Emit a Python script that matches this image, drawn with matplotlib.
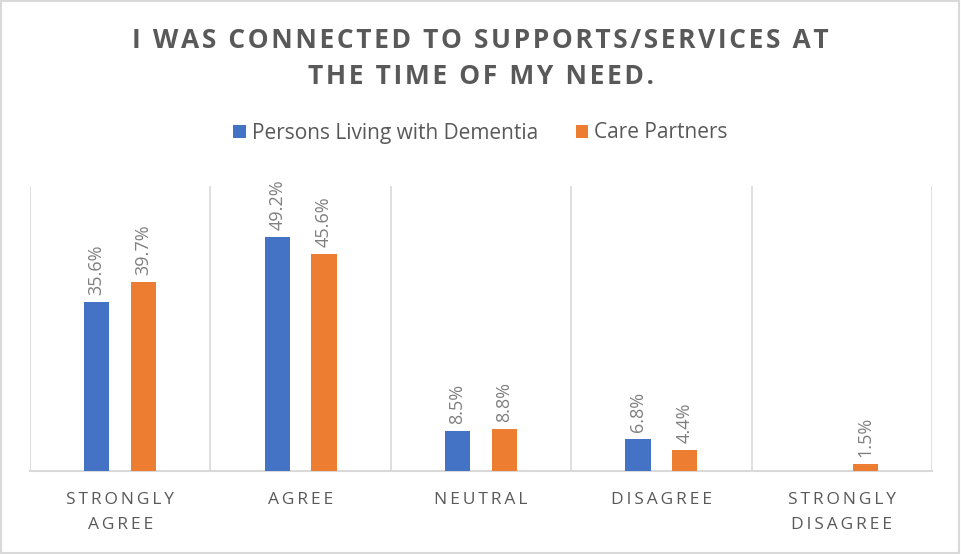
import matplotlib.pyplot as plt
import numpy as np
from matplotlib.patches import Rectangle

categories = ["STRONGLY\nAGREE", "AGREE", "NEUTRAL", "DISAGREE", "STRONGLY\nDISAGREE"]
pwd_values = [35.6, 49.2, 8.5, 6.8, None]
care_values = [39.7, 45.6, 8.8, 4.4, 1.5]
series_names = ["Persons Living with Dementia", "Care Partners"]

BLUE = "#4472C4"
ORANGE = "#ED7D31"
TEXT = "#595959"
GRID = "#D9D9D9"


def spaced(s, gap="\u2009"):
    # widen letter spacing by putting thin spaces between characters
    return "\n".join(gap.join(line) for line in s.split("\n"))


plt.rcParams["font.family"] = ["Open Sans", "DejaVu Sans"]

fig = plt.figure(figsize=(9.61, 5.54), dpi=100)
ax = fig.add_axes([30 / 961, 83 / 554, 902 / 961, 285 / 554])

x = np.arange(len(categories))
off = 0.13
w = 0.14

pwd = np.array([v if v is not None else 0 for v in pwd_values], dtype=float)
care = np.array(care_values, dtype=float)

ax.bar(x - off, pwd, w, color=BLUE, label=series_names[0], zorder=3)
ax.bar(x + off, care, w, color=ORANGE, label=series_names[1], zorder=3)

for xi, v in zip(x, pwd_values):
    if v is not None:
        ax.annotate(f"{v:.1f}%", (xi - off, v), xytext=(0, 5), textcoords="offset points",
                    rotation=90, ha="center", va="bottom", fontsize=13, color="#7F7F7F")
for xi, v in zip(x, care_values):
    ax.annotate(f"{v:.1f}%", (xi + off, v), xytext=(0, 5), textcoords="offset points",
                rotation=90, ha="center", va="bottom", fontsize=13, color="#7F7F7F")

ax.set_xlim(-0.5, len(categories) - 0.5)
ax.set_ylim(0, 60)
ax.set_yticks([])
ax.set_xticks(x)
ax.set_xticklabels([spaced(c) for c in categories], fontsize=12.5, color=TEXT, linespacing=1.75)
ax.tick_params(axis="x", length=0, pad=15)

for b in np.arange(-0.5, len(categories), 1.0):
    ax.axvline(b, color=GRID, lw=1.2, zorder=1)

for s in ["top", "right", "left"]:
    ax.spines[s].set_visible(False)
ax.spines["bottom"].set_color(GRID)
ax.spines["bottom"].set_linewidth(1.5)

fig.text(0.5, 1 - 40 / 554, spaced("I WAS CONNECTED TO SUPPORTS/SERVICES AT", "\u200a"),
         ha="center", va="center", fontsize=19, fontweight="bold", color=TEXT)
fig.text(0.5, 1 - 77 / 554, spaced("THE TIME OF MY NEED.", "\u200a"),
         ha="center", va="center", fontsize=19, fontweight="bold", color=TEXT)

fig.legend(loc="center", bbox_to_anchor=(0.5, 1 - 133 / 554), ncol=2, frameon=False,
           fontsize=15, labelcolor=TEXT, handlelength=0.6, handleheight=0.6,
           handletextpad=0.3, columnspacing=1.8)

fig.patches.append(Rectangle((0.001, 0.001), 0.997, 0.997, transform=fig.transFigure,
                             fill=False, edgecolor=GRID, lw=1.5))

fig.savefig("out.png", dpi=100, facecolor="white")
